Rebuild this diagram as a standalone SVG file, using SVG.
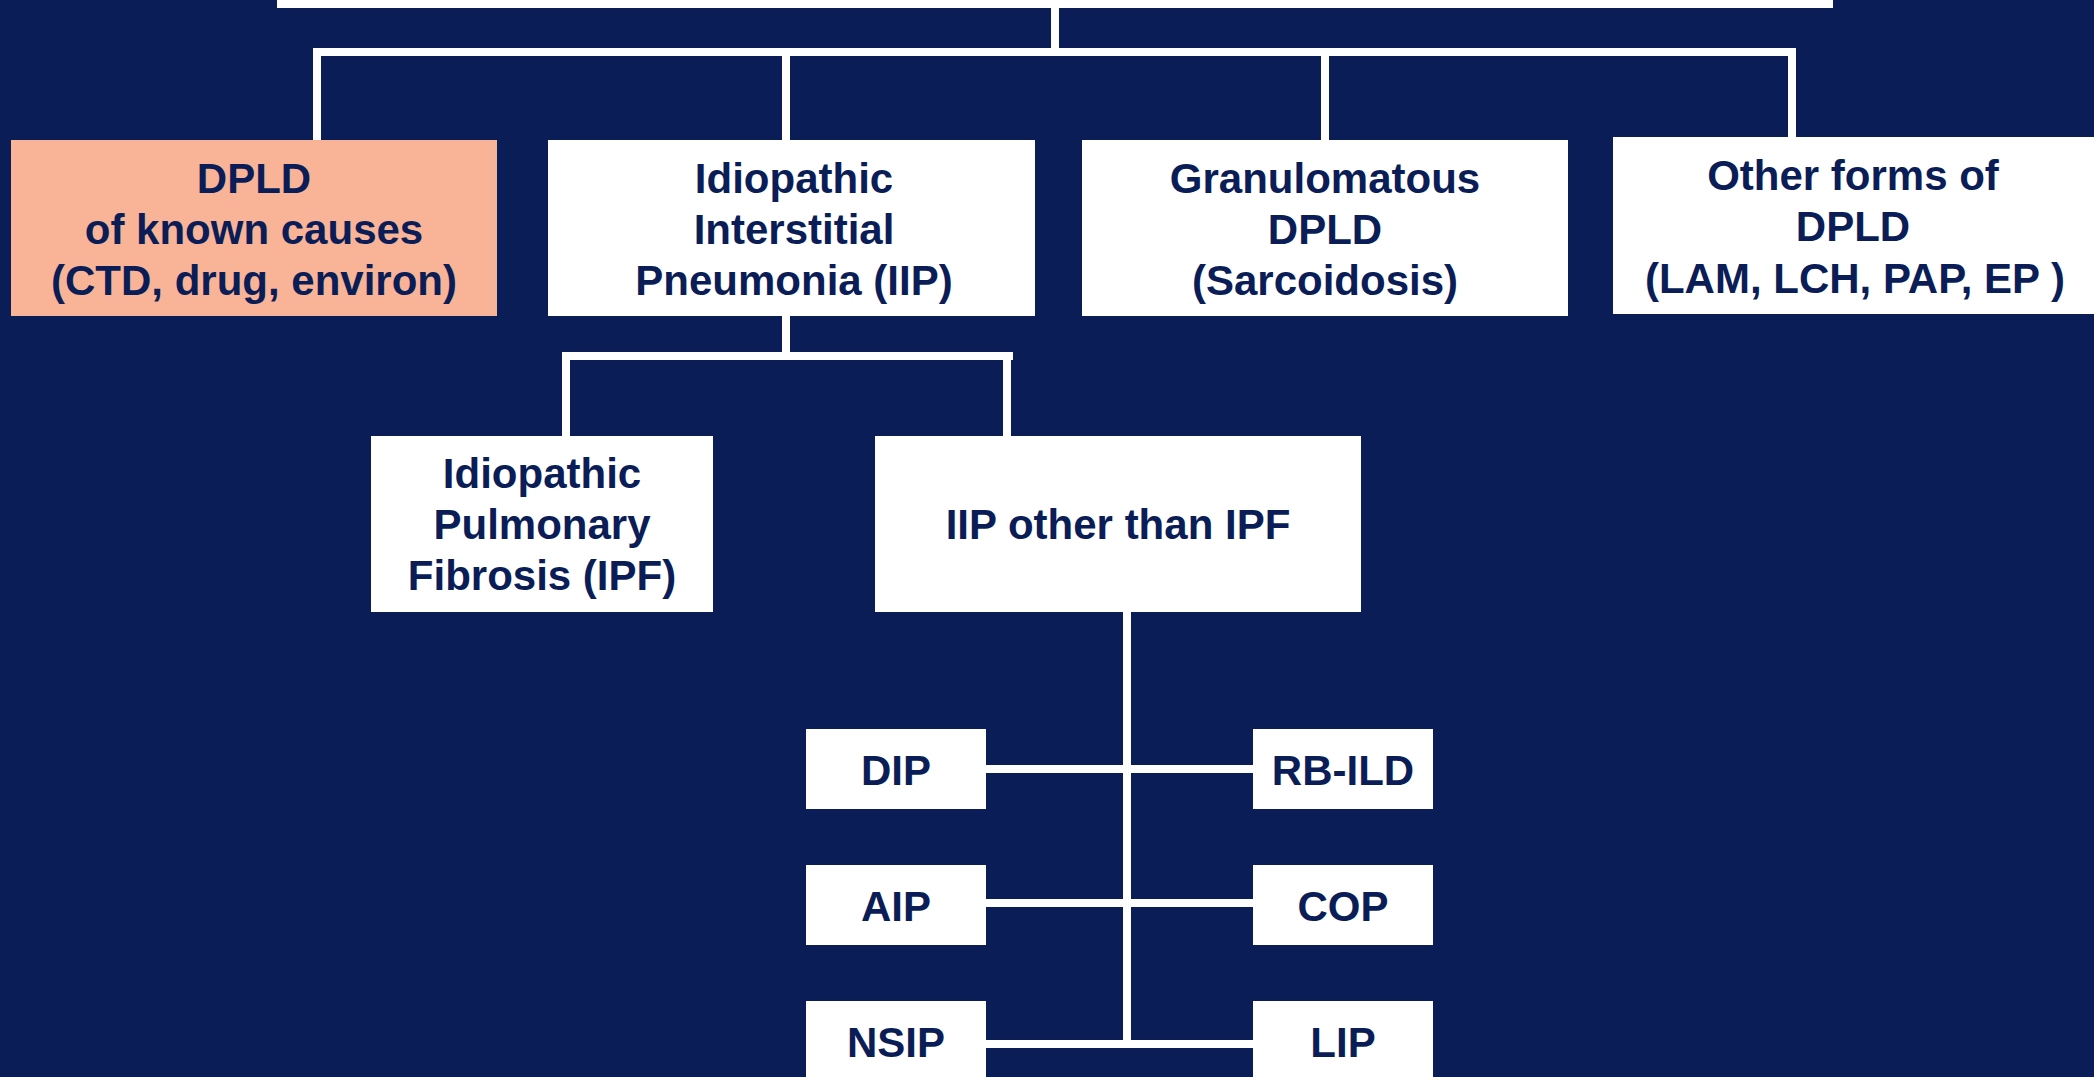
<svg xmlns="http://www.w3.org/2000/svg" width="2094" height="1077" viewBox="0 0 2094 1077">
<style>
.box{fill:#ffffff}
.known{fill:#F9B396}
.t{font-family:"Liberation Sans",Arial,sans-serif;font-weight:bold;font-size:42px;fill:#0A1D56;text-anchor:middle}
.c{stroke:#ffffff;stroke-width:8;fill:none;stroke-linecap:butt}
</style>
<rect width="2094" height="1077" fill="#0A1D56"/>
<g id="connectors">
<path class="c" d="M1055 6V52"/>
<path class="c" d="M313 52H1796"/>
<path class="c" d="M317 48V145"/>
<path class="c" d="M786 52V140"/>
<path class="c" d="M1325 52V140"/>
<path class="c" d="M1792 48V137"/>
<path class="c" d="M786 316V356"/>
<path class="c" d="M562 356H1013"/>
<path class="c" d="M566 352V436"/>
<path class="c" d="M1007 352V436"/>
<path class="c" d="M1127 612V1048"/>
<path class="c" d="M986 769H1253"/>
<path class="c" d="M986 903H1253"/>
<path class="c" d="M986 1044H1253"/>
</g>
<g id="root"><rect class="box" x="277" y="-10" width="1556" height="18"/></g>
<g id="known">
<rect class="known" x="11" y="140" width="486" height="176"/>
<text class="t" x="254" y="193">DPLD</text>
<text class="t" x="254" y="244">of known causes</text>
<text class="t" x="254" y="295">(CTD, drug, environ)</text>
</g>
<g id="iip">
<rect class="box" x="548" y="140" width="487" height="176"/>
<text class="t" x="794" y="193">Idiopathic</text>
<text class="t" x="794" y="244">Interstitial</text>
<text class="t" x="794" y="295">Pneumonia (IIP)</text>
</g>
<g id="granulomatous">
<rect class="box" x="1082" y="140" width="486" height="176"/>
<text class="t" x="1325" y="193">Granulomatous</text>
<text class="t" x="1325" y="244">DPLD</text>
<text class="t" x="1325" y="295">(Sarcoidosis)</text>
</g>
<g id="other">
<rect class="box" x="1613" y="137" width="481" height="177"/>
<text class="t" x="1853" y="190">Other forms of</text>
<text class="t" x="1853" y="241">DPLD</text>
<text class="t" x="1855" y="293">(LAM, LCH, PAP, EP )</text>
</g>
<g id="ipf">
<rect class="box" x="371" y="436" width="342" height="176"/>
<text class="t" x="542" y="488">Idiopathic</text>
<text class="t" x="542" y="539">Pulmonary</text>
<text class="t" x="542" y="590">Fibrosis (IPF)</text>
</g>
<g id="iip-other">
<rect class="box" x="875" y="436" width="486" height="176"/>
<text class="t" x="1118" y="539">IIP other than IPF</text>
</g>
<g id="dip"><rect class="box" x="806" y="729" width="180" height="80"/><text class="t" x="896" y="785">DIP</text></g>
<g id="rbild"><rect class="box" x="1253" y="729" width="180" height="80"/><text class="t" x="1343" y="785">RB-ILD</text></g>
<g id="aip"><rect class="box" x="806" y="865" width="180" height="80"/><text class="t" x="896" y="921">AIP</text></g>
<g id="cop"><rect class="box" x="1253" y="865" width="180" height="80"/><text class="t" x="1343" y="921">COP</text></g>
<g id="nsip"><rect class="box" x="806" y="1001" width="180" height="90"/><text class="t" x="896" y="1057">NSIP</text></g>
<g id="lip"><rect class="box" x="1253" y="1001" width="180" height="90"/><text class="t" x="1343" y="1057">LIP</text></g>
</svg>
